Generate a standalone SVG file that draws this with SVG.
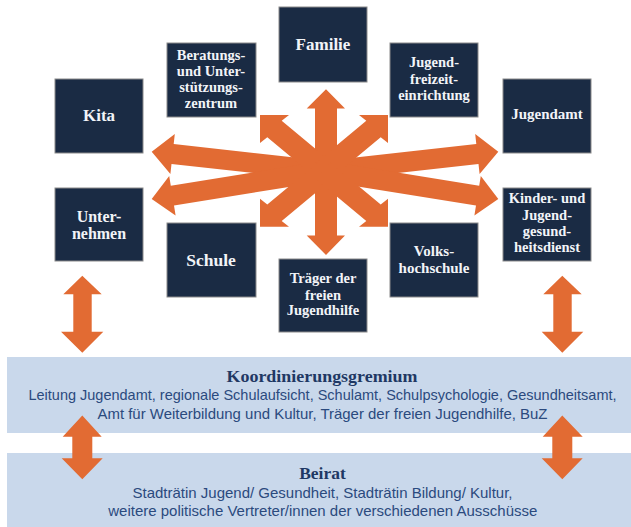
<svg xmlns="http://www.w3.org/2000/svg" width="631" height="527" viewBox="0 0 631 527">
<style>
.node rect{fill:#1a2b44;stroke:#8a8a8a;stroke-width:1}
.node text{fill:#f2f4f8;font-family:"Liberation Serif",serif;font-weight:bold;text-anchor:middle}
.m{font-size:14.5px}
.s{font-size:17px}
.arrow{fill:#e26b33}
.panel{fill:#c9d8eb}
.ttl{fill:#1f3864;font-family:"Liberation Serif",serif;font-weight:bold;font-size:17.5px;text-anchor:middle}
.body{fill:#2b4a7e;font-family:"Liberation Sans",sans-serif;font-size:14.5px;text-anchor:middle}
</style>
<rect width="631" height="527" fill="#ffffff"/>
<g id="panels">
<g id="koordinierungsgremium">
<rect class="panel" x="7" y="357" width="624" height="76"/>
<text class="ttl" x="322" y="381.5" textLength="191" lengthAdjust="spacingAndGlyphs">Koordinierungsgremium</text>
<text class="body" x="322.5" y="400" textLength="588" lengthAdjust="spacingAndGlyphs">Leitung Jugendamt, regionale Schulaufsicht, Schulamt, Schulpsychologie, Gesundheitsamt,</text>
<text class="body" x="322.5" y="418.5" textLength="450" lengthAdjust="spacingAndGlyphs">Amt für Weiterbildung und Kultur, Träger der freien Jugendhilfe, BuZ</text>
</g>
<g id="beirat">
<rect class="panel" x="7" y="453" width="624" height="74"/>
<text class="ttl" x="322.5" y="478.5">Beirat</text>
<text class="body" x="322.5" y="497.5" textLength="380" lengthAdjust="spacingAndGlyphs">Stadträtin Jugend/ Gesundheit, Stadträtin Bildung/ Kultur,</text>
<text class="body" x="322.8" y="515.5" textLength="429" lengthAdjust="spacingAndGlyphs">weitere politische Vertreter/innen der verschiedenen Ausschüsse</text>
</g>
</g>
<g id="connectors">
<polygon class="arrow" points="151.7,151.7 174.8,134.1 173.7,144.1 326.1,161.1 323.9,180.9 171.5,164 170.4,173.9"/>
<polygon class="arrow" points="151.7,199 169.2,175.9 170.8,185.8 323.4,161.1 326.6,180.9 174,205.5 175.6,215.4"/>
<polygon class="arrow" points="498.3,151.7 479.6,173.9 478.5,164 326.1,180.9 323.9,161.1 476.3,144.1 475.2,134.1"/>
<polygon class="arrow" points="498.3,199 474.4,215.4 476,205.5 323.4,180.9 326.6,161.1 479.2,185.8 480.8,175.9"/>
<polygon class="arrow" points="326,89.3 345,108.5 337,108.5 337,235.5 345,235.5 326,255 306.7,235.5 315,235.5 315,108.5 306.7,108.5"/>
<polygon class="arrow" points="260,115 289,115 281.7,120.7 332.2,162.7 317.8,179.3 267.3,137.3 260,143"/>
<polygon class="arrow" points="388,115 359,115 366.3,120.7 315.8,162.7 330.2,179.3 380.7,137.3 388,143"/>
<polygon class="arrow" points="260,226.7 289,226.7 281.7,221 332.2,179 317.8,162.4 267.3,204.4 260,198.7"/>
<polygon class="arrow" points="388,226.7 359,226.7 366.3,221 315.8,179 330.2,162.4 380.7,204.4 388,198.7"/>
<polygon class="arrow" points="82.3,275.7 101.7,294.3 91.7,294.3 91.7,331.7 103.3,331.7 82.3,352.7 61,331.7 73.3,331.7 73.3,294.3 63.3,294.3"/>
<polygon class="arrow" points="82.3,415.5 101.7,436.7 92.3,436.7 92.3,458.3 102.7,458.3 82.3,479.3 61.7,458.3 72.3,458.3 72.3,436.7 62.7,436.7"/>
<polygon class="arrow" points="562.3,275.7 581.7,294.3 571.7,294.3 571.7,331.7 583.3,331.7 562.3,352.7 541.7,331.7 553.3,331.7 553.3,294.3 543.3,294.3"/>
<polygon class="arrow" points="562.3,415.5 582.7,436.7 572.3,436.7 572.3,458.3 582.7,458.3 562.3,479.3 541.7,458.3 552.3,458.3 552.3,436.7 542.7,436.7"/>
</g>
<g id="kita" class="node"><rect x="55" y="79" width="88" height="74"/><text class="s" x="99" y="121">Kita</text></g>
<g id="beratungszentrum" class="node"><rect x="167" y="43" width="89" height="74"/><text class="m" x="211" y="59.5">Beratungs-</text><text class="m" x="211" y="75.5">und Unter-</text><text class="m" x="211" y="92">stützungs-</text><text class="m" x="211" y="108">zentrum</text></g>
<g id="familie" class="node"><rect x="279" y="7" width="88" height="75"/><text class="s" x="323" y="49.5">Familie</text></g>
<g id="jugendfreizeiteinrichtung" class="node"><rect x="390" y="43" width="88" height="74"/><text class="m" x="434" y="67">Jugend-</text><text class="m" x="434" y="83.5">freizeit-</text><text class="m" x="434" y="100">einrichtung</text></g>
<g id="jugendamt" class="node"><rect x="503" y="79" width="88" height="74"/><text x="547" y="119" style="font-size:15px">Jugendamt</text></g>
<g id="unternehmen" class="node"><rect x="55" y="188" width="88" height="73"/><text x="99" y="221.5" style="font-size:16px">Unter-</text><text x="99" y="239" style="font-size:16px">nehmen</text></g>
<g id="schule" class="node"><rect x="167" y="223" width="89" height="74"/><text class="s" x="211" y="266" style="font-size:17.5px">Schule</text></g>
<g id="traeger" class="node"><rect x="279" y="259" width="88" height="73"/><text class="m" x="323" y="283">Träger der</text><text class="m" x="323" y="299.5">freien</text><text class="m" x="323" y="315">Jugendhilfe</text></g>
<g id="volkshochschule" class="node"><rect x="390" y="223" width="88" height="74"/><text class="m" x="434" y="255.5" style="font-size:15px">Volks-</text><text class="m" x="434" y="272.5" style="font-size:15px">hochschule</text></g>
<g id="kinder-jugendgesundheitsdienst" class="node"><rect x="503" y="188" width="88" height="73"/><text class="m" x="547" y="203">Kinder- und</text><text class="m" x="547" y="219.5">Jugend-</text><text class="m" x="547" y="236">gesund-</text><text class="m" x="547" y="252">heitsdienst</text></g>
</svg>
